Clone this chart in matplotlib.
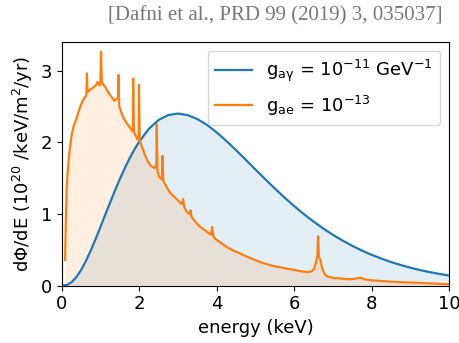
import matplotlib
matplotlib.use("Agg")
import matplotlib.pyplot as plt

plt.rcParams["mathtext.default"] = "regular"

# axion-photon (Primakoff) spectrum
energy_agamma = [0.0, 0.125, 0.25, 0.375, 0.5, 0.625, 0.75, 0.875, 1.0, 1.125, 1.25,
                 1.375, 1.5, 1.625, 1.75, 1.875, 2.0, 2.25, 2.5, 2.75,
                 3.0, 3.25, 3.5, 3.75, 4.0, 4.25, 4.5, 4.75, 5.0, 5.25, 5.5, 5.75,
                 6.0, 6.25, 6.5, 6.75, 7.0, 7.25, 7.5, 7.75, 8.0, 8.25, 8.5, 8.75,
                 9.0, 9.25, 9.5, 9.75, 10.0]
flux_agamma = [0.0, 0.010, 0.049, 0.122, 0.224, 0.352, 0.498, 0.658, 0.826, 0.998,
               1.168, 1.334, 1.493, 1.641, 1.778, 1.902, 2.012, 2.190,
               2.312, 2.380, 2.400, 2.379, 2.323, 2.241, 2.137, 2.018, 1.890, 1.756,
               1.621, 1.487, 1.356, 1.230, 1.111, 0.999, 0.895, 0.799, 0.710, 0.630,
               0.557, 0.491, 0.432, 0.379, 0.331, 0.289, 0.252, 0.219, 0.190, 0.165,
               0.143]

# axion-electron (ABC) spectrum with its lines
energy_ae = [0.08, 0.10, 0.12, 0.15, 0.20, 0.25, 0.30, 0.38, 0.45, 0.51, 0.58, 0.63,
             0.645, 0.66, 0.72, 0.80, 0.88, 0.92, 0.95, 0.99, 1.01, 1.03, 1.07, 1.11,
             1.17, 1.24, 1.30, 1.35, 1.45, 1.46, 1.48, 1.54, 1.60, 1.67, 1.76, 1.83,
             1.84, 1.86, 1.89, 1.95, 1.98, 1.99, 2.01, 2.08, 2.14, 2.22, 2.30, 2.40,
             2.44, 2.45, 2.47, 2.51, 2.58, 2.60, 2.62, 2.70, 2.79, 2.88, 2.96, 3.05,
             3.10, 3.13, 3.16, 3.22, 3.30, 3.32, 3.35, 3.45, 3.55, 3.65, 3.75, 3.85,
             3.88, 3.91, 3.95, 4.10, 4.26, 4.43, 4.60, 4.80, 4.94, 5.12, 5.30, 5.50,
             5.80, 6.00, 6.20, 6.35, 6.45, 6.52, 6.57, 6.60, 6.62, 6.64, 6.68, 6.72,
             6.78, 6.85, 7.00, 7.20, 7.44, 7.60, 7.72, 7.82, 8.00, 8.40, 8.74, 9.20,
             9.60, 10.0]
flux_ae = [0.36, 0.90, 1.35, 1.60, 1.90, 2.10, 2.22, 2.34, 2.46, 2.55, 2.62, 2.65,
           2.96, 2.70, 2.73, 2.76, 2.80, 2.84, 2.80, 2.80, 3.26, 2.85, 2.80, 2.78,
           2.72, 2.66, 2.62, 2.58, 2.62, 2.94, 2.50, 2.41, 2.33, 2.27, 2.20, 2.15,
           2.89, 2.15, 2.11, 2.04, 2.10, 2.80, 2.02, 1.92, 1.83, 1.73, 1.67, 1.64,
           1.70, 2.25, 1.60, 1.52, 1.48, 1.81, 1.46, 1.38, 1.30, 1.25, 1.21, 1.16,
           1.14, 1.21, 1.10, 1.03, 1.00, 1.05, 0.96, 0.89, 0.83, 0.79, 0.75, 0.71,
           0.82, 0.69, 0.66, 0.60, 0.54, 0.49, 0.45, 0.40, 0.37, 0.33, 0.30, 0.27,
           0.24, 0.22, 0.20, 0.19, 0.20, 0.24, 0.34, 0.42, 0.69, 0.40, 0.36, 0.25,
           0.17, 0.13, 0.11, 0.10, 0.09, 0.10, 0.11, 0.09, 0.075, 0.06, 0.05, 0.04,
           0.03, 0.02]

label_agamma = r"$g_{a\gamma}$ = $10^{-11}$ GeV$^{-1}$"
label_ae = r"$g_{ae}$ = $10^{-13}$"

fig = plt.figure(figsize=(4.59, 3.43), dpi=100)
ax = fig.add_axes([0.135, 0.167, 0.843, 0.711])

# blue first, orange on top
ax.plot(energy_agamma, flux_agamma, color="C0", linewidth=1.6, label=label_agamma)
ax.fill_between(energy_agamma, flux_agamma, 0, color="C0", alpha=0.12, linewidth=0)
ax.plot(energy_ae, flux_ae, color="C1", linewidth=1.6, label=label_ae)
ax.fill_between(energy_ae, flux_ae, 0, color="C1", alpha=0.12, linewidth=0)

ax.set_xlim(0, 10)
ax.set_ylim(0, 3.4)
ax.set_xticks([0, 2, 4, 6, 8, 10])
ax.set_yticks([0, 1, 2, 3])
ax.tick_params(labelsize=13)
ax.set_xlabel("energy (keV)", fontsize=13)
ax.set_ylabel(r"d$\Phi$/dE ($10^{20}$ /keV/m$^2$/yr)", fontsize=13)
ax.legend(loc="upper right", fontsize=13)

# source reference at the top
fig.text(0.965, 0.955, "[Dafni et al., PRD 99 (2019) 3, 035037]",
         ha="right", va="center", color="#777777", fontsize=15,
         family="Liberation Serif")

fig.savefig("out.png", dpi=100)
